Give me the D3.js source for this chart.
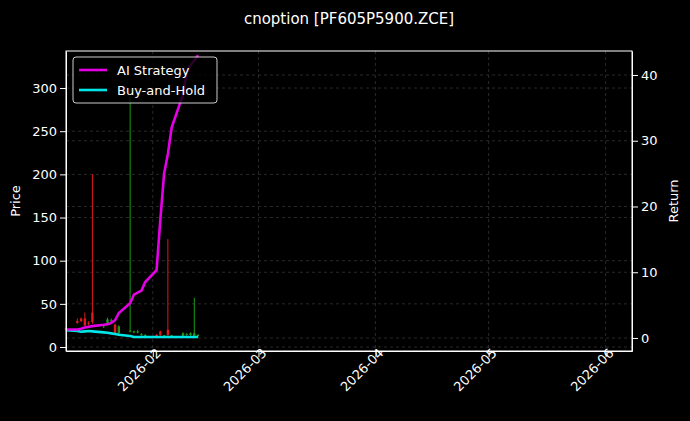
<!DOCTYPE html>
<html><head><meta charset="utf-8">
<script src="https://cdn.jsdelivr.net/npm/d3@7"></script>
<style>body{margin:0;background:#000}text{font-family:"DejaVu Sans",sans-serif}</style>
</head><body>
<script>
var dates = ["2026-01-09","2026-01-12","2026-01-13","2026-01-14","2026-01-15","2026-01-16","2026-01-19","2026-01-20","2026-01-21","2026-01-22","2026-01-23","2026-01-26","2026-01-27","2026-01-28","2026-01-29","2026-01-30","2026-02-02","2026-02-03","2026-02-04","2026-02-05","2026-02-06","2026-02-09","2026-02-10","2026-02-11","2026-02-12","2026-02-13"];
var open  = [22,30,33,33,28,40,24,27,30,26,16,18,17,17,14,13,14,18,13,20,13,13,14,14,13,13];
var close = [20,28,30,25,27,29,25,32,31,15,24,19,18,18,15,14,13,14,13.5,14,13.5,16,15,16,16,14];
var high  = [23,33,34,40,30,200,26,34,33,27,25,290,19,20,16,15,15,19,14,125,14,17,16,17,57,15];
var low   = [19,27,29,24,25,27,22,26,28,14,15,17,16,16,13,13,12,13,12,13,12,12,13,13,12,12];
var aiStrategy = [1.3,1.3,1.4,1.6,1.7,1.8,2.0,2.1,2.3,2.7,3.8,5.3,6.6,6.9,7.2,8.5,10.3,18,25,28,32,37,40.5,41.5,42.2,43];
var buyHold = [1.2,1.05,0.95,1.0,1.05,1.0,0.85,0.8,0.7,0.6,0.5,0.3,0.15,0.15,0.15,0.15,0.15,0.15,0.15,0.15,0.15,0.15,0.15,0.15,0.15,0.15];
var xTicks = ["2026-02-01","2026-03-01","2026-04-01","2026-05-01","2026-06-01"];

var W = 690, H = 421, L = 66, R = 632, T = 51, B = 351;
var parse = d3.utcParse("%Y-%m-%d");
var svg = d3.select("body").append("svg").attr("width", W).attr("height", H).style("background", "#000");

var x = d3.scaleUtc().domain([parse("2026-01-09"), parse("2026-06-08")]).range([L, R]);
var yP = d3.scaleLinear().domain([-4.6, 342.9]).range([B, T]);
var yR = d3.scaleLinear().domain([-1.98, 43.65]).range([B, T]);

// grid
var g = svg.append("g").attr("stroke", "#444").attr("stroke-dasharray", "3,3").attr("stroke-width", 0.6);
xTicks.forEach(function(t){ g.append("line").attr("x1", x(parse(t))).attr("x2", x(parse(t))).attr("y1", T).attr("y2", B); });
d3.range(0, 301, 50).forEach(function(v){ g.append("line").attr("x1", L).attr("x2", R).attr("y1", yP(v)).attr("y2", yP(v)); });
d3.range(0, 41, 10).forEach(function(v){ g.append("line").attr("x1", L).attr("x2", R).attr("y1", yR(v)).attr("y2", yR(v)); });

// candles
var candles = svg.append("g");
dates.forEach(function(d, i){
  var cx = x(parse(d)), col = close[i] >= open[i] ? "#1a9c1a" : "#e01a1a";
  candles.append("line").attr("x1", cx).attr("x2", cx).attr("y1", yP(high[i])).attr("y2", yP(low[i])).attr("stroke", col).attr("stroke-width", 1);
  var y0 = yP(Math.max(open[i], close[i])), y1 = yP(Math.min(open[i], close[i]));
  candles.append("rect").attr("x", cx - 1.2).attr("width", 2.4).attr("y", y0).attr("height", Math.max(1, y1 - y0)).attr("fill", col);
});

// lines
var line = d3.line().x(function(d, i){ return x(parse(dates[i])); });
svg.append("path").datum(buyHold).attr("d", line.y(function(d){ return yR(d); })).attr("fill", "none").attr("stroke", "#00e5e5").attr("stroke-width", 2.6);
svg.append("path").datum(aiStrategy).attr("d", line.y(function(d){ return yR(d); })).attr("fill", "none").attr("stroke", "#e600e6").attr("stroke-width", 2.6);

// axes
function style(a){ a.selectAll("path,line").attr("stroke", "#fff"); a.selectAll("text").attr("fill", "#fff").style("font-size", "13px"); }
var ax = svg.append("g").attr("transform", "translate(0," + B + ")")
  .call(d3.axisBottom(x).tickValues(xTicks.map(parse)).tickFormat(d3.utcFormat("%Y-%m")).tickSizeOuter(0));
style(ax);
ax.selectAll("text").attr("text-anchor", "end").attr("x", 4).attr("y", 8).attr("dx", 0).attr("dy", 0).attr("transform", "rotate(-45)");
style(svg.append("g").attr("transform", "translate(" + L + ",0)").call(d3.axisLeft(yP).tickValues(d3.range(0, 301, 50)).tickSizeOuter(0)));
style(svg.append("g").attr("transform", "translate(" + R + ",0)").call(d3.axisRight(yR).tickValues(d3.range(0, 41, 10)).tickSizeOuter(0)));
svg.append("rect").attr("x", L).attr("y", T).attr("width", R - L).attr("height", B - T).attr("fill", "none").attr("stroke", "#fff");

svg.append("text").attr("x", 349).attr("y", 24).attr("text-anchor", "middle").attr("fill", "#fff").style("font-size", "15px").text("cnoption [PF605P5900.ZCE]");
svg.append("text").attr("transform", "translate(20," + (T + B) / 2 + ") rotate(-90)").attr("text-anchor", "middle").attr("fill", "#fff").style("font-size", "13px").text("Price");
svg.append("text").attr("transform", "translate(678," + (T + B) / 2 + ") rotate(-90)").attr("text-anchor", "middle").attr("fill", "#fff").style("font-size", "13px").text("Return");

// legend
var lg = svg.append("g");
lg.append("rect").attr("x", 73).attr("y", 57).attr("width", 144).attr("height", 46).attr("rx", 3).attr("fill", "rgba(0,0,0,0.8)").attr("stroke", "#ccc");
[["AI Strategy", "#e600e6"], ["Buy-and-Hold", "#00e5e5"]].forEach(function(e, i){
  var yy = 70 + i * 20;
  lg.append("line").attr("x1", 79).attr("x2", 107).attr("y1", yy).attr("y2", yy).attr("stroke", e[1]).attr("stroke-width", 2.6);
  lg.append("text").attr("x", 117).attr("y", yy + 4.5).attr("fill", "#fff").style("font-size", "13px").text(e[0]);
});
</script>
</body></html>
